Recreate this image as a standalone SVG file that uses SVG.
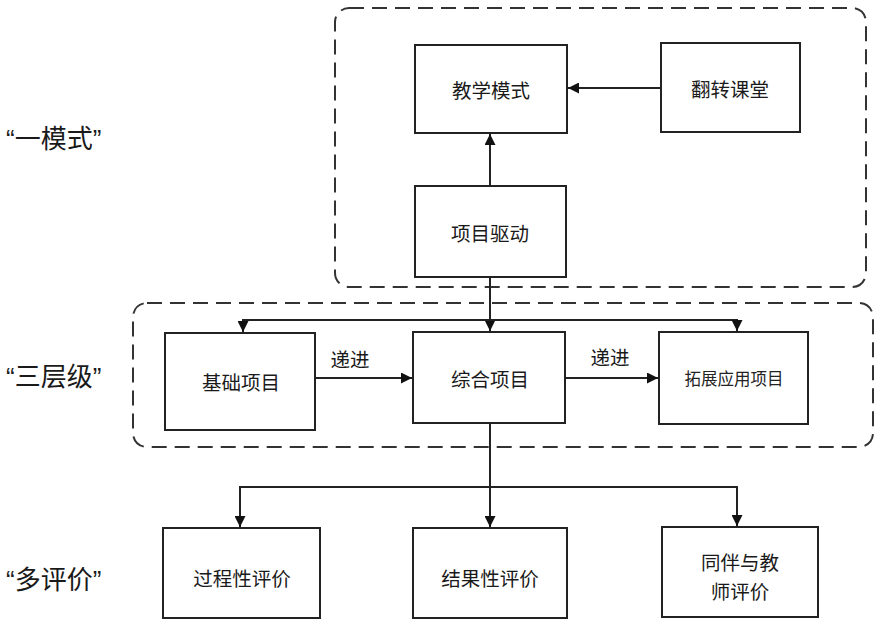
<svg xmlns="http://www.w3.org/2000/svg" width="885" height="627" viewBox="0 0 885 627">
<style>
.box{fill:#fff;stroke:#222;stroke-width:2}
.grp{fill:none;stroke:#333;stroke-width:2;stroke-dasharray:15 8}
.t{font-family:"Noto Sans CJK SC","Noto Sans",sans-serif;font-size:19.5px;font-weight:400;fill:#1a1a1a;text-anchor:middle;dominant-baseline:central}
.t2{font-family:"Noto Sans CJK SC","Noto Sans",sans-serif;font-size:16.5px;font-weight:400;fill:#222;text-anchor:middle;dominant-baseline:central}
.side{font-family:"Liberation Sans","Noto Sans CJK SC",sans-serif;font-size:26px;fill:#1a1a1a;dominant-baseline:central}
.ln{fill:none;stroke:#222;stroke-width:2}
</style>
<defs>
<marker id="ah" viewBox="0 0 10 10" refX="10" refY="5" markerWidth="5.5" markerHeight="5.5" orient="auto" markerUnits="strokeWidth">
<path d="M0,0 L10,5 L0,10 z" fill="#111"/>
</marker>
</defs>
<g id="groups">
<rect class="grp" x="335" y="8" width="531" height="279" rx="14"/>
<rect class="grp" x="133" y="303" width="740" height="144" rx="14"/>
</g>
<g id="labels">
<text class="side" x="6" y="139">“一模式”</text>
<text class="side" x="6" y="377">“三层级”</text>
<text class="side" x="6" y="580">“多评价”</text>
</g>
<g id="n-jiaoxue"><rect class="box" x="415" y="45" width="152" height="88"/><text class="t" x="491" y="89">教学模式</text></g>
<g id="n-fanzhuan"><rect class="box" x="661" y="43" width="139" height="89"/><text class="t" x="730" y="88">翻转课堂</text></g>
<g id="n-xiangmu"><rect class="box" x="415" y="186" width="151" height="91"/><text class="t" x="490" y="232">项目驱动</text></g>
<g id="n-jichu"><rect class="box" x="165" y="333" width="150" height="97"/><text class="t" x="241" y="381">基础项目</text></g>
<g id="n-zonghe"><rect class="box" x="413" y="332" width="152" height="91"/><text class="t" x="490" y="378">综合项目</text></g>
<g id="n-tuozhan"><rect class="box" x="659" y="332" width="149" height="92"/><text class="t2" x="734" y="378">拓展应用项目</text></g>
<g id="n-guocheng"><rect class="box" x="163" y="528" width="157" height="90"/><text class="t" x="242" y="577">过程性评价</text></g>
<g id="n-jieguo"><rect class="box" x="413" y="528" width="154" height="90"/><text class="t" x="490" y="577">结果性评价</text></g>
<g id="n-tongban"><rect class="box" x="662" y="527" width="156" height="90"/><text class="t" x="740" y="561">同伴与教</text><text class="t" x="740" y="590">师评价</text></g>
<g id="connectors">
<line class="ln" x1="661" y1="88" x2="568" y2="88" marker-end="url(#ah)"/>
<line class="ln" x1="490" y1="186" x2="490" y2="134" marker-end="url(#ah)"/>
<line class="ln" x1="490" y1="277" x2="490" y2="331" marker-end="url(#ah)"/>
<polyline class="ln" points="243,332 243,320 737,320 737,331" marker-end="url(#ah)"/>
<path class="ln" d="M243,320 L243,332" marker-end="url(#ah)"/>
<line class="ln" x1="315" y1="378" x2="412" y2="378" marker-end="url(#ah)"/>
<line class="ln" x1="565" y1="378" x2="658" y2="378" marker-end="url(#ah)"/>
<line class="ln" x1="490" y1="423" x2="490" y2="527" marker-end="url(#ah)"/>
<polyline class="ln" points="240,527 240,487 737,487 737,526" marker-end="url(#ah)"/>
<path class="ln" d="M240,487 L240,527" marker-end="url(#ah)"/>
<text class="t" x="350" y="358">递进</text>
<text class="t" x="610" y="356">递进</text>
</g>
</svg>
